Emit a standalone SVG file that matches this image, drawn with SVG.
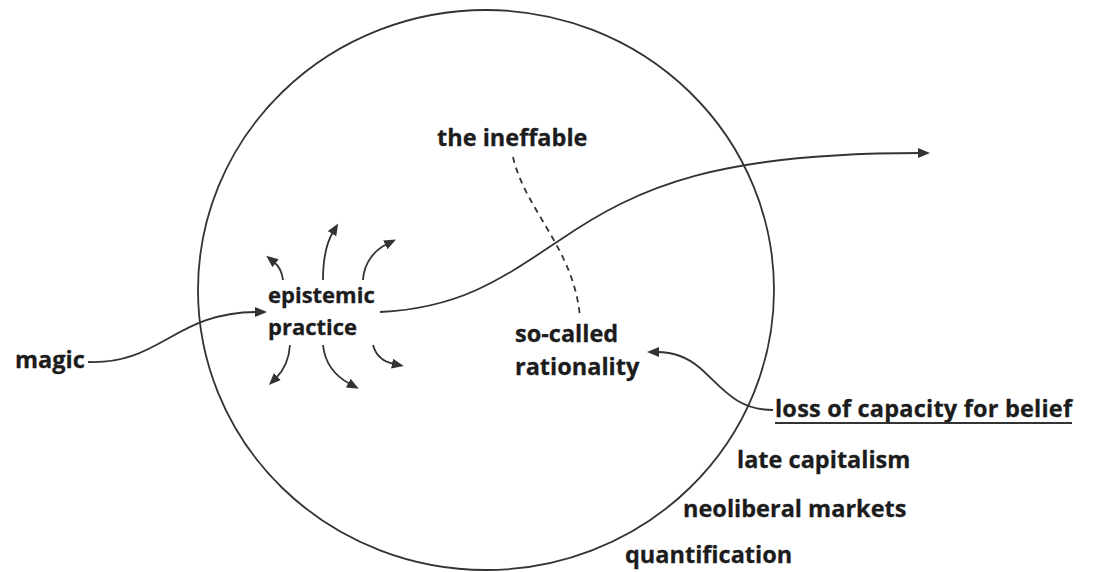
<svg xmlns="http://www.w3.org/2000/svg" width="1095" height="572" viewBox="0 0 1095 572">
<style>
text{font-family:"Open Sans","Noto Sans","Liberation Sans",sans-serif;font-weight:700;font-size:23.5px;fill:#1c1c1c;stroke:#1c1c1c;stroke-width:0.3}
.c{fill:none;stroke:#333;stroke-width:1.8}
.d{fill:none;stroke:#333;stroke-width:1.8;stroke-dasharray:6 5}
</style>
<defs>
<marker id="ah" viewBox="0 0 12 10" refX="2" refY="5" markerWidth="12" markerHeight="10" markerUnits="userSpaceOnUse" orient="auto">
<path d="M0,0 L12,5 L0,10 z" fill="#333"/>
</marker>
</defs>
<rect width="1095" height="572" fill="#fff"/>
<g id="sphere"><ellipse cx="486" cy="290" rx="288" ry="280" fill="none" stroke="#333" stroke-width="1.8"/></g>
<g id="connectors">
<path class="c" d="M88 362 C160 365 175 312 257 312" marker-end="url(#ah)"/>
<path class="c" d="M380 312 C460 308 500 280 560 240 C640 185 720 153 920 153" marker-end="url(#ah)"/>
<path class="d" d="M513 157 C525 210 575 250 580 318"/>
<path class="c" d="M773 410 C735 410 720 385 700 368 C685 355 670 352 657 352" marker-end="url(#ah)"/>
<path class="c" d="M283 280 C282 272 279 266 274 262" marker-end="url(#ah)"/>
<path class="c" d="M323 280 C323 260 327 242 333 232" marker-end="url(#ah)"/>
<path class="c" d="M363 280 C364 262 375 250 387 244" marker-end="url(#ah)"/>
<path class="c" d="M290 345 C289 360 283 371 276 378" marker-end="url(#ah)"/>
<path class="c" d="M323 345 C325 365 337 377 350 384" marker-end="url(#ah)"/>
<path class="c" d="M373 345 C376 356 384 362 394 364" marker-end="url(#ah)"/>
</g>
<g id="ineffable"><text x="437" y="146">the ineffable</text></g>
<g id="epistemic"><text x="268" y="303" style="font-size:22px">epistemic</text><text x="268" y="335" style="font-size:22px">practice</text></g>
<g id="magic"><text x="15" y="368">magic</text></g>
<g id="rationality"><text x="515" y="342">so-called</text><text x="515" y="375">rationality</text></g>
<g id="belief"><text x="775" y="417" textLength="297" lengthAdjust="spacing">loss of capacity for belief</text><line x1="775" y1="423" x2="1072" y2="423" stroke="#333" stroke-width="2"/></g>
<g id="capitalism"><text x="737" y="468">late capitalism</text></g>
<g id="markets"><text x="683" y="517">neoliberal markets</text></g>
<g id="quantification"><text x="625" y="563">quantification</text></g>
</svg>
